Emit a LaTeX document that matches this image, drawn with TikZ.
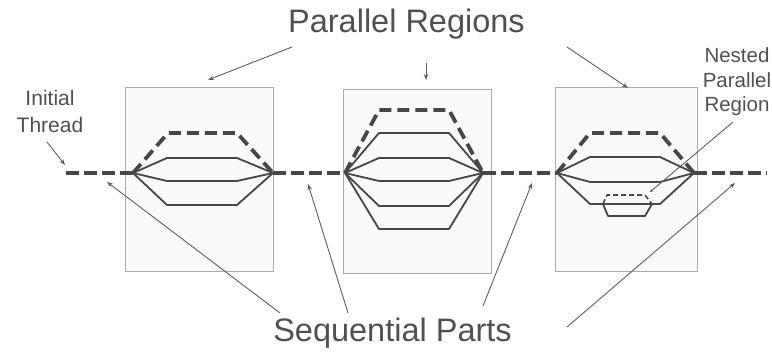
\documentclass[tikz,border=0pt]{standalone}
\usepackage{fontspec}
\setmainfont{Liberation Sans}
\usetikzlibrary{arrows.meta}

\definecolor{ink}{HTML}{474747}
\definecolor{txt}{HTML}{505050}
\definecolor{pointergrey}{HTML}{5E5E5E}
\definecolor{boxline}{HTML}{ABABAB}
\definecolor{boxfill}{HTML}{FAFAFA}

\tikzset{
  regionbox/.style={draw=boxline, fill=boxfill, line width=1pt, inner sep=0pt, minimum height=184pt},
  thread/.style={draw=ink, line width=4pt, dash pattern=on 13pt off 5pt},
  worker/.style={draw=ink, line width=1.8pt, line join=round},
  master/.style={draw=ink, line width=3.8pt, dash pattern=on 12pt off 6pt, line join=round},
  nestedmaster/.style={draw=ink, line width=1.6pt, dash pattern=on 5pt off 3pt, line join=round},
  pointer/.style={draw=pointergrey, line width=0.9pt, -{Stealth[length=6pt,width=4.5pt]}},
  biglabel/.style={text=txt, font=\fontsize{32.5}{39}\selectfont, inner sep=0pt, anchor=base},
  smalllabel/.style={text=txt, align=center, inner sep=0pt, anchor=base}
}

\begin{document}
\begin{tikzpicture}[x=1pt, y=-1pt]
\useasboundingbox (0,0) rectangle (772,352);

% the three parallel regions
\node[regionbox, minimum width=148pt] (r1) at (199,180) {};
\node[regionbox, minimum width=148pt] (r2) at (417,181.5) {};
\node[regionbox, minimum width=142pt] (r3) at (626,180) {};

% fork and join points on the master thread
\coordinate (t0) at (62,173);
\coordinate (f1l) at (133,173);
\coordinate (f1r) at (273,173);
\coordinate (f2l) at (345,173);
\coordinate (f2r) at (483,173);
\coordinate (f3l) at (557,173);
\coordinate (f3r) at (694,173);
\coordinate (t1) at (767,173);

% region 1: three workers and the master
\foreach \y in {158,181,205}
  \draw[worker] (f1l) -- (167,\y) -- (237,\y) -- (f1r);
\draw[master] (f1l) -- (168,133) -- (237,133) -- (f1r);

% region 2: five workers and the master
\foreach \y in {133,158,181,206,229}
  \draw[worker] (f2l) -- (379,\y) -- (449,\y) -- (f2r);
\draw[master] (f2l) -- (379,110) -- (449,110) -- (f2r);

% region 3: three workers, one of them forking again
\foreach \y in {157,182,204}
  \draw[worker] (f3l) -- (590,\y) -- (660,\y) -- (f3r);
\draw[master] (f3l) -- (590,133) -- (660,133) -- (f3r);
\coordinate (n1) at (603,204);
\coordinate (n2) at (652,204);
\draw[worker] (n1) -- (608,216) -- (645,216) -- (n2);
\draw[nestedmaster] (n1) -- (607,195) -- (645,195) -- (n2);

% sequential parts of the master thread
\draw[thread] (f1l) -- (t0);
\draw[thread] (f1r) -- (f2l);
\draw[thread] (f2r) -- (f3l);
\draw[thread] (f3r) -- (t1);

% labels (multi-line nodes sit on the baseline of their last line)
\node[biglabel] (pr) at (406.5,33) {Parallel Regions};
\node[biglabel] (sp) at (392.5,342) {Sequential Parts};
\node[smalllabel, font=\fontsize{21}{27}\selectfont] (it) at (50,133) {Initial\\Thread};
\node[smalllabel, font=\fontsize{20.5}{24.5}\selectfont] (npr) at (737,112) {Nested\\Parallel\\Region};

% pointers from the parallel-region label
\coordinate (pra) at (292,47);
\coordinate (prb) at (426,63);
\coordinate (prc) at (567,47);
\coordinate (r1t) at (208,80);
\coordinate (r2t) at (426,80);
\coordinate (r3t) at (628,88);
\draw[pointer] (pra) -- (r1t);
\draw[pointer] (prb) -- (r2t);
\draw[pointer] (prc) -- (r3t);

% pointer from the initial-thread label
\coordinate (ita) at (47,142);
\coordinate (itb) at (65,165);
\draw[pointer] (ita) -- (itb);

% pointers from the sequential-parts label
\coordinate (spa) at (280,313);
\coordinate (spb) at (348,313);
\coordinate (spc) at (483,306);
\coordinate (spd) at (567,327);
\coordinate (s1) at (107,182);
\coordinate (s2) at (308,184);
\coordinate (s3) at (532,183);
\coordinate (s4) at (735,183);
\draw[pointer] (spa) -- (s1);
\draw[pointer] (spb) -- (s2);
\draw[pointer] (spc) -- (s3);
\draw[pointer] (spd) -- (s4);

% pointer to the nested region
\coordinate (npa) at (733,122);
\coordinate (npb) at (650,192);
\draw[pointer, -{Stealth[length=3pt,width=3pt]}] (npa) -- (npb);
\end{tikzpicture}
\end{document}
